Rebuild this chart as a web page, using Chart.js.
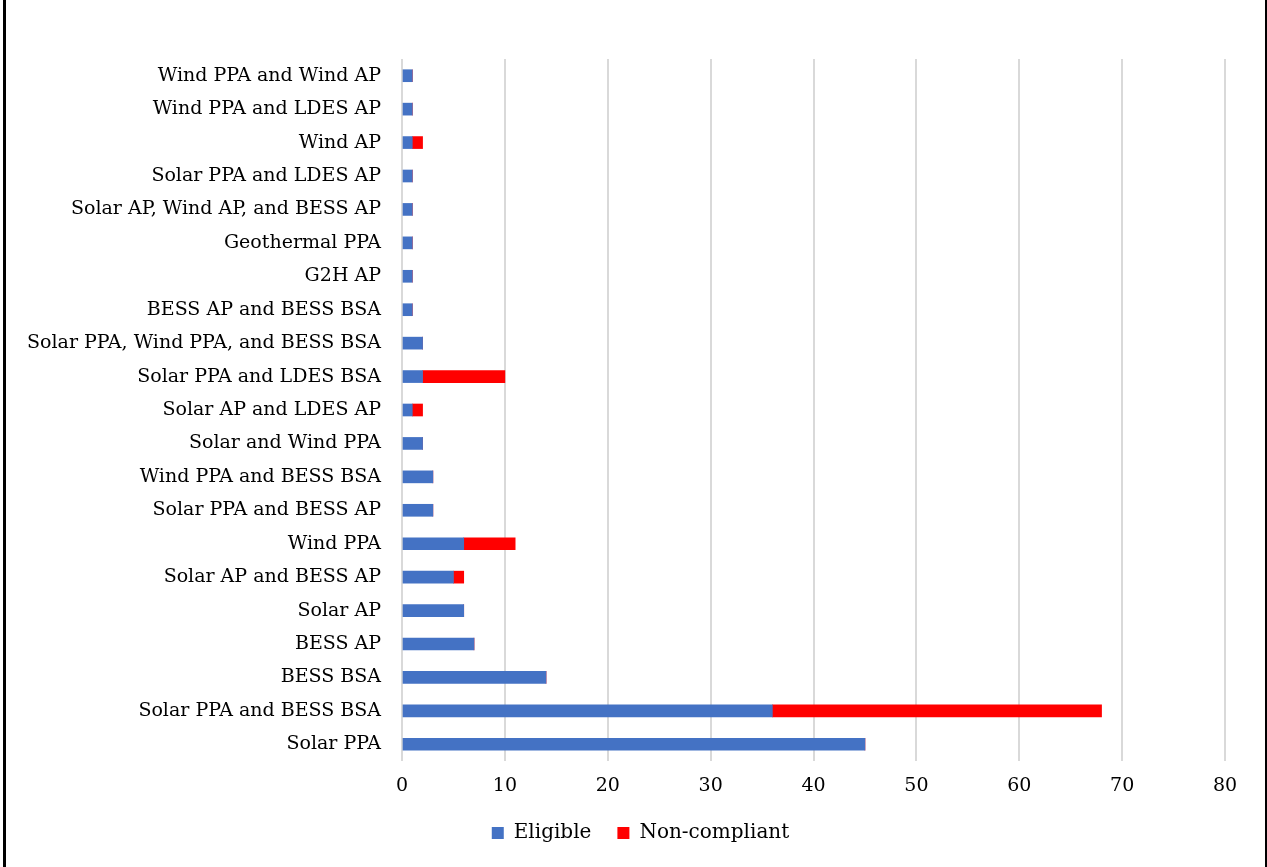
<!DOCTYPE html>
<html>
<head>
<meta charset="utf-8">
<script src="https://cdn.jsdelivr.net/npm/chart.js@4"></script>
<style>
  html, body { margin: 0; padding: 0; background: #fff; }
  #wrap { position: relative; width: 1267px; height: 867px; overflow: hidden; }
  #grafico { position: absolute; left: 0; top: 0; }
  .borde { position: absolute; top: 0; height: 867px; background: #000; }
</style>
</head>
<body>
<div id="wrap">
  <canvas id="grafico" width="1267" height="867"></canvas>
  <div class="borde" style="left:3px;width:3px"></div>
  <div class="borde" style="left:1265px;width:2px"></div>
</div>
<script>
// Categorías (de arriba hacia abajo)
const categorias = [
    'Wind PPA and Wind AP',
    'Wind PPA and LDES AP',
    'Wind AP',
    'Solar PPA and LDES AP',
    'Solar AP, Wind AP, and BESS AP',
    'Geothermal PPA',
    'G2H AP',
    'BESS AP and BESS BSA',
    'Solar PPA, Wind PPA, and BESS BSA',
    'Solar PPA and LDES BSA',
    'Solar AP and LDES AP',
    'Solar and Wind PPA',
    'Wind PPA and BESS BSA',
    'Solar PPA and BESS AP',
    'Wind PPA',
    'Solar AP and BESS AP',
    'Solar AP',
    'BESS AP',
    'BESS BSA',
    'Solar PPA and BESS BSA',
    'Solar PPA'
];

// Valores de cada serie
const elegibles = [1, 1, 1, 1, 1, 1, 1, 1, 2, 2, 1, 2, 3, 3, 6, 5, 6, 7, 14, 36, 45];
const noCumplen = [0, 0, 1, 0, 0, 0, 0, 0, 0, 8, 1, 0, 0, 0, 5, 1, 0, 0, 0, 32, 0];

// Marcas del eje X
const marcasX = [0, 10, 20, 30, 40, 50, 60, 70, 80];

const fuente = 'DejaVu Serif';
Chart.defaults.font.family = fuente;
Chart.defaults.color = '#000';

// Desplaza la leyenda para centrarla en la página como en el original
const moverLeyenda = {
    id: 'moverLeyenda',
    afterLayout(chart) {
        chart.legend.left += 28;
        chart.legend.right += 28;
    }
};

const ctx = document.getElementById('grafico').getContext('2d');

const chart = new Chart(ctx, {
    type: 'bar',
    data: {
        labels: categorias,
        datasets: [
            {
                label: 'Eligible',
                data: elegibles,
                backgroundColor: '#4472C4',
                barThickness: 12
            },
            {
                label: 'Non-compliant',
                data: noCumplen,
                backgroundColor: '#FF0000',
                barThickness: 12
            }
        ]
    },
    options: {
        indexAxis: 'y',
        responsive: false,
        animation: false,
        layout: {
            padding: { top: 59, right: 42, left: 0, bottom: 14 }
        },
        scales: {
            x: {
                stacked: true,
                min: 0,
                max: 80,
                afterBuildTicks: (escala) => {
                    escala.ticks = marcasX.map(v => ({ value: v }));
                },
                afterFit: (escala) => { escala.height = 36; },
                grid: { color: '#d9d9d9', lineWidth: 2, drawTicks: false },
                border: { display: false },
                ticks: { font: { size: 19 }, padding: 14 }
            },
            y: {
                stacked: true,
                afterFit: (escala) => { escala.width = 402; },
                grid: { display: false },
                border: { display: false },
                ticks: { font: { size: 19 }, padding: 13, autoSkip: false }
            }
        },
        plugins: {
            legend: {
                position: 'bottom',
                labels: {
                    boxWidth: 12,
                    boxHeight: 12,
                    padding: 26,
                    font: { size: 20 }
                }
            },
            tooltip: { enabled: false }
        }
    },
    plugins: [moverLeyenda]
});
</script>
</body>
</html>
